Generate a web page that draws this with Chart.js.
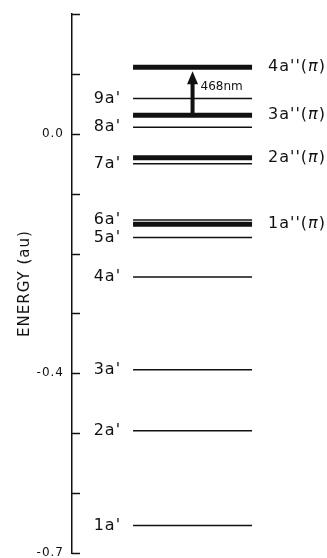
<!DOCTYPE html>
<html>
<head>
<meta charset="utf-8">
<script src="https://cdn.jsdelivr.net/npm/chart.js@4.4.1/dist/chart.umd.min.js"></script>
<style>
    html, body { margin: 0; padding: 0; background: #fff; }
    canvas { display: block; }
</style>
</head>
<body>
<canvas id="levelChart" width="327" height="558"></canvas>
<script>
// sigma (a') orbitals, thin lines
const sigmaLabels = ["1a'", "2a'", "3a'", "4a'", "5a'", "6a'", "7a'", "8a'", "9a'"];
const sigmaEnergies = [-0.654, -0.496, -0.394, -0.239, -0.173, -0.144, -0.050, 0.011, 0.059];

// pi (a'') orbitals, thick lines
const piLabels = ["1a''", "2a''", "3a''", "4a''"];
const piEnergies = [-0.151, -0.040, 0.031, 0.111];

// transition arrow 3a'' -> 4a''
const transitionLabel = "468nm";
const transitionFrom = 2;
const transitionTo = 3;

// axis
const tickValues = [0.0, -0.4, -0.7];
const tickLabels = ["0.0", "-0.4", "-0.7"];
const energyMin = -0.7;
const energyMax = 0.2;
const tickStep = 0.1;

const levelStart = 0;
const levelEnd = 1;
const ink = "#111";

Chart.defaults.font.family = "'DejaVu Sans', sans-serif";
Chart.defaults.color = ink;

// Function to build one energy level as a flat line
function levelDataset(label, energy, width, order) {
    return {
        label: label,
        data: [
            { x: levelStart, y: energy },
            { x: levelEnd, y: energy },
        ],
        borderColor: ink,
        borderWidth: width,
        pointRadius: 0,
        fill: false,
        order: order,
    };
}

const datasets = [];
sigmaLabels.forEach((label, i) => {
    datasets.push(levelDataset(label, sigmaEnergies[i], 1.5, 1));
});
piLabels.forEach((label, i) => {
    datasets.push(levelDataset(label, piEnergies[i], 5, 0));
});

// Labels, inward ticks and the transition arrow
const levelDecorations = {
    id: "levelDecorations",
    beforeDraw(chart) {
        // spaced-out lettering like the plotter original
        chart.ctx.letterSpacing = "1px";
    },
    afterDatasetsDraw(chart) {
        const ctx = chart.ctx;
        const xs = chart.scales.x;
        const ys = chart.scales.y;
        ctx.save();

        // ticks point into the plot, one every 0.1 au
        ctx.strokeStyle = ink;
        ctx.lineWidth = 1.5;
        const nTicks = Math.round((energyMax - energyMin) / tickStep);
        for (let k = 0; k <= nTicks; k++) {
            const py = Math.round(ys.getPixelForValue(energyMin + k * tickStep)) + 0.5;
            ctx.beginPath();
            ctx.moveTo(ys.right, py);
            ctx.lineTo(ys.right + 8, py);
            ctx.stroke();
        }

        ctx.fillStyle = ink;
        ctx.textBaseline = "middle";

        // a' labels to the left
        ctx.font = "16px 'DejaVu Sans', sans-serif";
        ctx.textAlign = "right";
        const leftX = xs.getPixelForValue(levelStart) - 12;
        sigmaLabels.forEach((label, i) => {
            ctx.fillText(label, leftX, ys.getPixelForValue(sigmaEnergies[i]));
        });

        // a'' (pi) labels to the right
        ctx.textAlign = "left";
        const rightX = xs.getPixelForValue(levelEnd) + 16;
        piLabels.forEach((label, i) => {
            const py = ys.getPixelForValue(piEnergies[i]);
            let px = rightX;
            ctx.font = "16px 'DejaVu Sans', sans-serif";
            ctx.fillText(label + "(", px, py);
            px += ctx.measureText(label + "(").width;
            ctx.font = "italic 16px 'DejaVu Sans', sans-serif";
            ctx.fillText("\u03c0", px, py);
            px += ctx.measureText("\u03c0").width;
            ctx.font = "16px 'DejaVu Sans', sans-serif";
            ctx.fillText(")", px, py);
        });

        // arrow
        const ax = xs.getPixelForValue((levelStart + levelEnd) / 2);
        const yFrom = ys.getPixelForValue(piEnergies[transitionFrom]);
        const yTip = ys.getPixelForValue(piEnergies[transitionTo]) + 4;
        ctx.lineWidth = 4;
        ctx.beginPath();
        ctx.moveTo(ax, yFrom);
        ctx.lineTo(ax, yTip + 10);
        ctx.stroke();
        ctx.beginPath();
        ctx.moveTo(ax, yTip);
        ctx.lineTo(ax - 5.5, yTip + 13);
        ctx.lineTo(ax + 5.5, yTip + 13);
        ctx.closePath();
        ctx.fill();

        ctx.font = "12px 'DejaVu Sans', sans-serif";
        ctx.letterSpacing = "0px";
        ctx.textAlign = "left";
        ctx.fillText(transitionLabel, ax + 8, yTip + 16);

        ctx.restore();
    },
    afterDraw(chart) {
        chart.ctx.letterSpacing = "0px";
    },
};

const chart = new Chart(document.getElementById("levelChart"), {
    type: "line",
    data: { datasets: datasets },
    options: {
        responsive: false,
        animation: false,
        layout: {
            padding: { top: 14, bottom: 5, left: 0, right: 2 },
        },
        plugins: {
            legend: { display: false },
            tooltip: { enabled: false },
        },
        scales: {
            x: {
                type: "linear",
                display: false,
                min: -0.513,
                max: 1.613,
            },
            y: {
                type: "linear",
                min: energyMin,
                max: energyMax,
                grid: { display: false },
                border: { display: true, color: ink, width: 1.5 },
                ticks: {
                    stepSize: tickStep,
                    autoSkip: false,
                    padding: 0,
                    font: { size: 12 },
                    color: ink,
                    callback: (value) => {
                        const v = Math.round(value * 10) / 10;
                        const idx = tickValues.findIndex((t) => Math.abs(t - v) < 1e-6);
                        return idx >= 0 ? tickLabels[idx] : null;
                    },
                },
                title: {
                    display: true,
                    text: "ENERGY (au)",
                    font: { size: 15 },
                    color: ink,
                    padding: { top: 16, bottom: 0 },
                },
                afterFit: (scale) => {
                    scale.width = 72;
                    scale.paddingTop = 0;
                    scale.paddingBottom = 0;
                },
            },
        },
    },
    plugins: [levelDecorations],
});
</script>
</body>
</html>
